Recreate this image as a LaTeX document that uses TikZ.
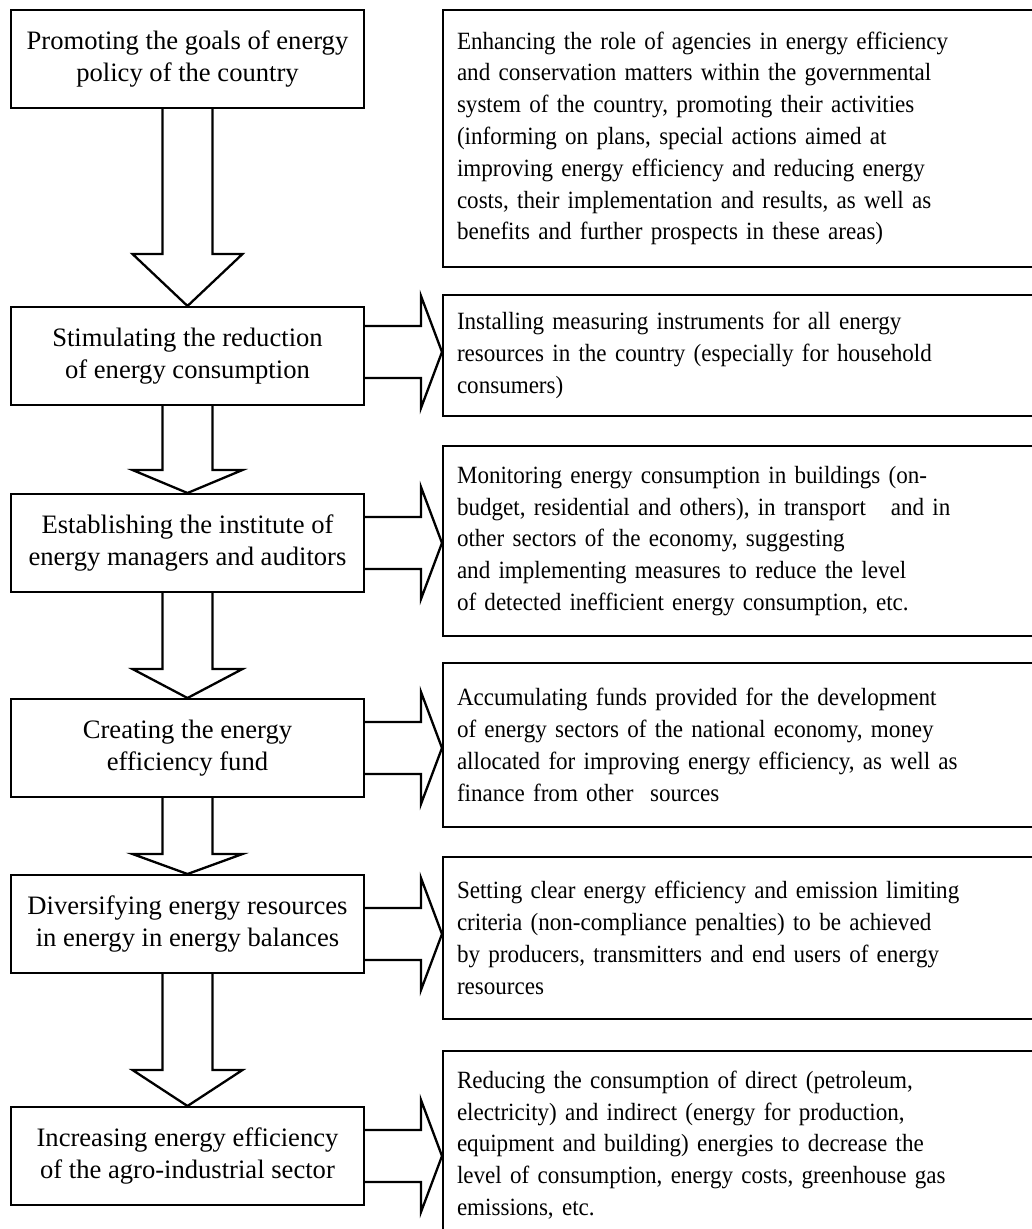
\documentclass[tikz,border=0pt]{standalone}
\usepackage{fontspec}
\setmainfont{Liberation Serif}
\newfontfamily\notefont[FakeStretch=0.93]{Liberation Serif}
\usetikzlibrary{calc}

\DeclareRobustCommand\notestyle{%
  \notefont\fontsize{24.8}{31.8}\selectfont\spaceskip=0.19em\relax}

\tikzset{
  stepbox/.style={draw, line width=2pt, minimum width=353pt, minimum height=98pt,
    inner sep=0pt, align=center, font=\fontsize{26.6}{32}\selectfont},
  notebox/.style={draw, line width=2pt, anchor=west, text width=600pt,
    inner xsep=14pt, inner ysep=0pt, align=left, font=\notestyle},
  fatarrow/.style={line width=2.3pt, line join=miter}
}

%% hollow block arrow from a step down to the next step (#3 = head length)
\newcommand\fatdown[3]{%
  \draw[fatarrow] ($(#1.south)+(-25,0)$) -- ($(#2.north)+(-25,-#3)$)
    -- ++(-30,0) -- (#2.north) -- ($(#2.north)+(55,-#3)$)
    -- ++(-30,0) -- ($(#1.south)+(25,0)$);}

%% hollow block arrow from a step to its note (#3 = shift down)
\newcommand\fatright[3]{%
  \draw[fatarrow] ($(#1.east)+(0,#3-26)$) -- ++(56,0) -- ++(0,-30)
    -- ($(#2.west |- #1.east)+(0,#3)$) -- ($(#1.east)+(56,#3+56)$)
    -- ++(0,-30) -- ($(#1.east)+(0,#3+26)$);}

\begin{document}
\begin{tikzpicture}[x=1pt, y=-1pt]

  \clip (0,0) rectangle (1032,1229);

  %% ---- Steps (left column) ----
  \node[stepbox] (p1) at (187.5,59)   {Promoting the goals of energy\\ policy of the country};
  \node[stepbox] (p2) at (187.5,356)  {Stimulating the reduction\\ of energy consumption};
  \node[stepbox] (p3) at (187.5,543)  {Establishing the institute of\\ energy managers and auditors};
  \node[stepbox] (p4) at (187.5,748)  {Creating the energy\\ efficiency fund};
  \node[stepbox] (p5) at (187.5,924)  {Diversifying energy resources\\ in energy in energy balances};
  \node[stepbox] (p6) at (187.5,1156) {Increasing energy efficiency\\ of the agro-industrial sector};

  %% ---- Notes (right column, cut by the page edge) ----
  \node[notebox, minimum height=257pt] (d1) at (442,138.5)
    {Enhancing the role of agencies in energy efficiency\\
     and conservation matters within the governmental\\
     system of the country, promoting their activities\\
     (informing on plans, special actions aimed at\\
     improving energy efficiency and reducing energy\\
     costs, their implementation and results, as well as\\
     benefits and further prospects in these areas)};
  \node[notebox, minimum height=121pt] (d2) at (442,355.5)
    {Installing measuring instruments for all energy\\
     resources in the country (especially for household\\
     consumers)};
  \node[notebox, minimum height=190pt] (d3) at (442,541)
    {Monitoring energy consumption in buildings (on-\\
     budget, residential and others), in transport\ \ \ and in\\
     other sectors of the economy, suggesting\\
     and implementing measures to reduce the level\\
     of detected inefficient energy consumption, etc.};
  \node[notebox, minimum height=164pt] (d4) at (442,745)
    {Accumulating funds provided for the development\\
     of energy sectors of the national economy, money\\
     allocated for improving energy efficiency, as well as\\
     finance from other\ \ sources};
  \node[notebox, minimum height=162pt] (d5) at (442,938)
    {Setting clear energy efficiency and emission limiting\\
     criteria (non-compliance penalties) to be achieved\\
     by producers, transmitters and end users of energy\\
     resources};
  \node[notebox, minimum height=188pt] (d6) at (442,1145)
    {Reducing the consumption of direct (petroleum,\\
     electricity) and indirect (energy for production,\\
     equipment and building) energies to decrease the\\
     level of consumption, energy costs, greenhouse gas\\
     emissions, etc.};

  %% ---- Block arrows down ----
  \fatdown{p1}{p2}{52}
  \fatdown{p2}{p3}{23}
  \fatdown{p3}{p4}{29}
  \fatdown{p4}{p5}{20}
  \fatdown{p5}{p6}{36}

  %% ---- Block arrows to the notes ----
  \fatright{p2}{d2}{-4}
  \fatright{p3}{d3}{0}
  \fatright{p4}{d4}{0}
  \fatright{p5}{d5}{10}
  \fatright{p6}{d6}{0}

\end{tikzpicture}
\end{document}
